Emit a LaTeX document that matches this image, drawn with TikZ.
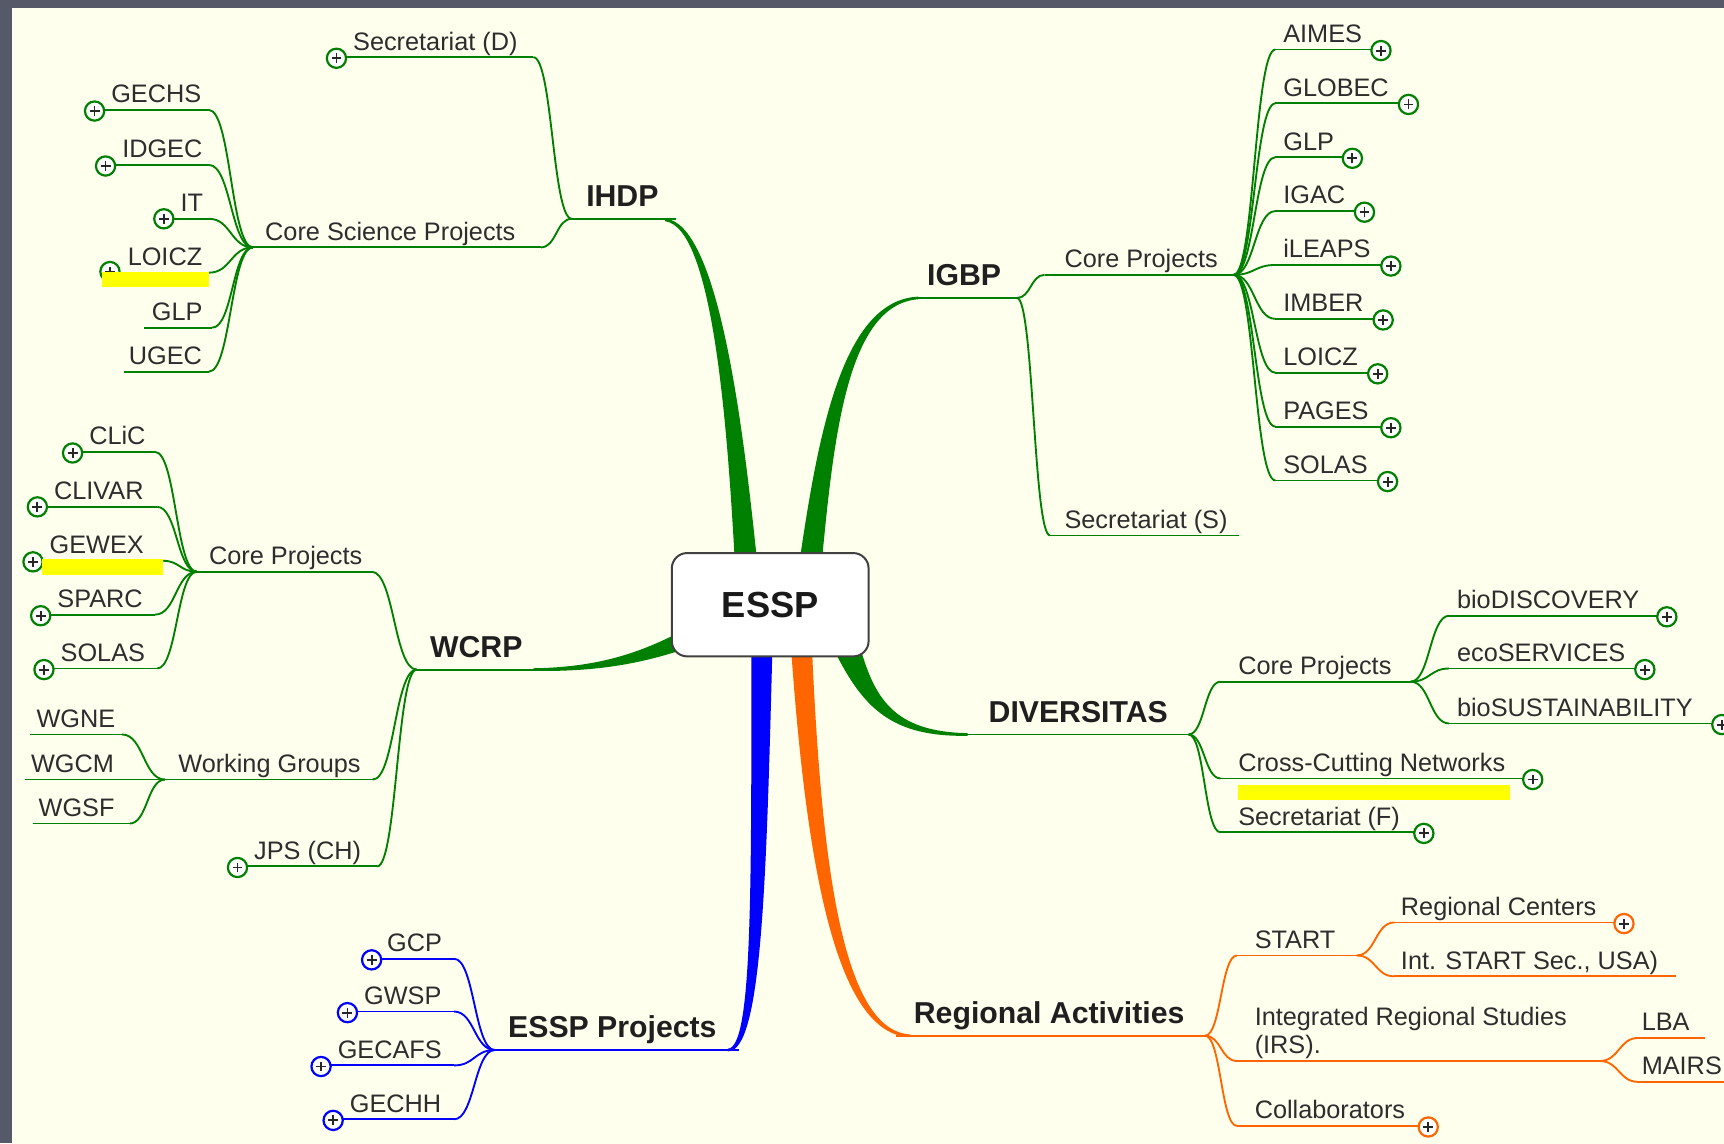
\documentclass[tikz,border=0pt]{standalone}
\usepackage{fontspec}
\setmainfont{Liberation Sans}
\usetikzlibrary{calc}
\definecolor{frame}{RGB}{86,89,104}
\definecolor{cream}{RGB}{255,255,238}
\definecolor{gr}{RGB}{0,128,0}
\definecolor{bl}{RGB}{0,0,255}
\definecolor{og}{RGB}{255,102,0}
\definecolor{txt}{RGB}{45,45,45}
\definecolor{yel}{RGB}{255,255,0}
\tikzset{
 lbl/.style={font=\fontsize{23}{25.5}\selectfont, text=txt, inner sep=0pt},
 blbl/.style={font=\fontsize{27.5}{30}\selectfont\bfseries, text=black!88, inner sep=0pt},
 thinln/.style={line width=1.7pt},
 plusnode/.style={circle, minimum size=17.5pt, inner sep=0pt, fill=white, line width=2pt,
   path picture={\draw[line width=1.7pt,black!85]
     ([xshift=-4.5pt]path picture bounding box.center) -- ([xshift=4.5pt]path picture bounding box.center)
     ([yshift=-4.5pt]path picture bounding box.center) -- ([yshift=4.5pt]path picture bounding box.center);}},
 esspbox/.style={draw=black!75, line width=1.8pt, fill=white, rounded corners=14pt,
   minimum width=179pt, minimum height=94pt, inner sep=0pt,
   font=\fontsize{33}{36}\selectfont\bfseries, text=black!90},
}
\newcommand\leaf[7]{%
 \coordinate (#1-l) at (#4,#6);
 \coordinate (#1-r) at (#5,#6);
 \draw[thinln,#2] (#1-l) -- (#1-r);
 \node[lbl,anchor=base west] (#1) at (#3,#6-6.5) {#7};}
\newcommand\bleaf[7]{%
 \coordinate (#1-l) at (#4,#6);
 \coordinate (#1-r) at (#5,#6);
 \draw[thinln,#2] (#1-l) -- (#1-r);
 \node[blbl,anchor=base west] (#1) at (#3,#6-11) {#7};}
\newcommand\sconn[3]{\draw[thinln,#1] let \p1=(#2), \p2=(#3) in
 (\p1) .. controls ({0.5*\x1+0.5*\x2},\y1) and ({0.5*\x1+0.5*\x2},\y2) .. (\p2);}
\newcommand\plusmark[3]{\node[plusnode,draw=#2] (#1) at (#3) {};}
\begin{document}
\begin{tikzpicture}[x=1pt,y=-1pt]
\clip (0,0) rectangle (1568,1040);
\fill[frame] (0,0) rectangle (1568,1040);
\fill[cream] (11,7) rectangle (1570,1042);

% ---- trunks ----
\fill[gr] (688,505) .. controls (675,380) and (652.5,203) .. (605,198.8)
  -- (605,201.2) .. controls (647.5,207) and (661,380) .. (668,505) -- cycle;
\fill[gr] (728,505) .. controls (745,390) and (767.5,273) .. (835,269.8)
  -- (835,272.2) .. controls (772.5,277) and (759,390) .. (748,505) -- cycle;
\fill[gr] (619,574.5) .. controls (579,595.5) and (540,607) .. (485,607.8)
  -- (485,610.2) .. controls (540,611) and (581,604.5) .. (625,589.5) -- cycle;
\fill[gr] (781,584) .. controls (795,636) and (813,665.5) .. (880,666.8)
  -- (880,669.2) .. controls (811,670.5) and (785,644) .. (759,592) -- cycle;
\fill[bl] (702.5,590) .. controls (697,800) and (693,957) .. (662,956.2)
  -- (662,953.8) .. controls (685,953) and (683,800) .. (683.5,590) -- cycle;
\fill[og] (719.5,590) .. controls (733,780.5) and (759,942) .. (828,943.2)
  -- (828,940.8) .. controls (765,938) and (747,779.5) .. (738.5,590) -- cycle;

\node[esspbox] (essp) at (700.5,550) {ESSP};

% ---- IHDP ----
\bleaf{ihdp}{gr}{533}{520}{615}{199}{IHDP}
\leaf{secD}{gr}{321}{306}{485}{52}{Secretariat (D)}
\leaf{csp}{gr}{241}{230}{492}{225}{Core Science Projects}
\leaf{gechs}{gr}{101}{86}{190}{100}{GECHS}
\leaf{idgec}{gr}{111}{96}{190}{150}{IDGEC}
\leaf{it}{gr}{164}{149}{190}{199}{IT}
\leaf{loiczA}{gr}{116}{100}{190}{248}{LOICZ}
\leaf{glpA}{gr}{138}{131}{193}{298}{GLP}
\leaf{ugec}{gr}{117}{113}{190}{338}{UGEC}
\sconn{gr}{secD-r}{ihdp-l}
\sconn{gr}{csp-r}{ihdp-l}
\foreach \c in {gechs,idgec,it,loiczA,glpA,ugec}{\sconn{gr}{\c-r}{csp-l}}
\plusmark{pSecD}{gr}{306,53}
\plusmark{pGechs}{gr}{86,101}
\plusmark{pIdgec}{gr}{96,151}
\plusmark{pIt}{gr}{149,199}
\plusmark{pLoiczA}{gr}{100,247}

% ---- IGBP ----
\bleaf{igbp}{gr}{843}{830}{925}{271}{IGBP}
\leaf{cpI}{gr}{968}{950}{1122}{250}{Core Projects}
\leaf{secS}{gr}{968}{955}{1127}{487}{Secretariat (S)}
\sconn{gr}{igbp-r}{cpI-l}
\sconn{gr}{igbp-r}{secS-l}
\leaf{aimes}{gr}{1167}{1160}{1256}{45}{AIMES}
\leaf{globec}{gr}{1167}{1160}{1281}{94}{GLOBEC}
\leaf{glpB}{gr}{1167}{1160}{1230}{143}{GLP}
\leaf{igac}{gr}{1167}{1160}{1241}{192}{IGAC}
\leaf{ileaps}{gr}{1167}{1160}{1265}{241}{iLEAPS}
\leaf{imber}{gr}{1167}{1160}{1258}{290}{IMBER}
\leaf{loiczB}{gr}{1167}{1160}{1253}{339}{LOICZ}
\leaf{pages}{gr}{1167}{1160}{1265}{388}{PAGES}
\leaf{solasB}{gr}{1167}{1160}{1262}{437}{SOLAS}
\foreach \c in {aimes,globec,glpB,igac,ileaps,imber,loiczB,pages,solasB}{\sconn{gr}{cpI-r}{\c-l}}
\plusmark{pAimes}{gr}{1256,46}
\plusmark{pGlobec}{gr}{1281,95}
\plusmark{pGlpB}{gr}{1230,144}
\plusmark{pIgac}{gr}{1241,193}
\plusmark{pIleaps}{gr}{1265,242}
\plusmark{pImber}{gr}{1258,291}
\plusmark{pLoiczB}{gr}{1253,340}
\plusmark{pPages}{gr}{1265,389}
\plusmark{pSolasB}{gr}{1262,438}

% ---- WCRP ----
\bleaf{wcrp}{gr}{391}{379}{490}{609}{WCRP}
\leaf{cpW}{gr}{190}{179}{338}{520}{Core Projects}
\leaf{wg}{gr}{162}{150}{339}{709}{Working Groups}
\leaf{jps}{gr}{231}{216}{343}{788}{JPS (CH)}
\foreach \c in {cpW,wg,jps}{\sconn{gr}{\c-r}{wcrp-l}}
\leaf{clic}{gr}{81}{66}{141}{411}{CLiC}
\leaf{clivar}{gr}{49}{34}{143}{461}{CLIVAR}
\leaf{gewex}{gr}{45}{30}{148}{510}{GEWEX}
\leaf{sparc}{gr}{52}{37}{141}{559}{SPARC}
\leaf{solasA}{gr}{55}{40}{143}{608}{SOLAS}
\foreach \c in {clic,clivar,gewex,sparc,solasA}{\sconn{gr}{\c-r}{cpW-l}}
\leaf{wgne}{gr}{33}{27}{111}{668}{WGNE}
\leaf{wgcm}{gr}{28}{23}{140}{709}{WGCM}
\leaf{wgsf}{gr}{35}{30}{118}{749}{WGSF}
\foreach \c in {wgne,wgcm,wgsf}{\sconn{gr}{\c-r}{wg-l}}
\plusmark{pJps}{gr}{216,789}
\plusmark{pClic}{gr}{66,412}
\plusmark{pClivar}{gr}{34,461}
\plusmark{pGewex}{gr}{30,511}
\plusmark{pSparc}{gr}{37,560}
\plusmark{pSolasA}{gr}{40,609}

% ---- ESSP Projects ----
\bleaf{esspp}{bl}{462}{450}{672}{955}{ESSP Projects}
\leaf{gcp}{bl}{352}{338}{413}{872}{GCP}
\leaf{gwsp}{bl}{331}{316}{413}{920}{GWSP}
\leaf{gecafs}{bl}{307}{292}{413}{969}{GECAFS}
\leaf{gechh}{bl}{318}{303}{413}{1018}{GECHH}
\foreach \c in {gcp,gwsp,gecafs,gechh}{\sconn{bl}{\c-r}{esspp-l}}
\plusmark{pGcp}{bl}{338,873}
\plusmark{pGwsp}{bl}{316,921}
\plusmark{pGecafs}{bl}{292,970}
\plusmark{pGechh}{bl}{303,1019}

% ---- DIVERSITAS ----
\bleaf{div}{gr}{899}{876}{1081}{668}{DIVERSITAS}
\leaf{cpD}{gr}{1126}{1110}{1283}{620}{Core Projects}
\leaf{ccn}{gr}{1126}{1110}{1394}{708}{Cross-Cutting Networks}
\leaf{secF}{gr}{1126}{1110}{1295}{757}{Secretariat (F)}
\foreach \c in {cpD,ccn,secF}{\sconn{gr}{div-r}{\c-l}}
\leaf{biod}{gr}{1325}{1318}{1516}{560}{bioDISCOVERY}
\leaf{ecos}{gr}{1325}{1318}{1496}{608}{ecoSERVICES}
\leaf{bios}{gr}{1325}{1318}{1566}{658}{bioSUSTAINABILITY}
\foreach \c in {biod,ecos,bios}{\sconn{gr}{cpD-r}{\c-l}}
\plusmark{pCcn}{gr}{1394,709}
\plusmark{pSecF}{gr}{1295,758}
\plusmark{pBiod}{gr}{1516,561}
\plusmark{pEcos}{gr}{1496,609}
\plusmark{pBios}{gr}{1566,659}

% ---- Regional Activities ----
\bleaf{ra}{og}{831}{815}{1096}{942}{Regional Activities}
\leaf{start}{og}{1141}{1125}{1234}{869}{START}
\coordinate (irs-l) at (1125,965);
\coordinate (irs-r) at (1455,965);
\draw[thinln,og] (irs-l) -- (irs-r);
\node[lbl,anchor=north west,align=left] (irs) at (1141,915.5) {Integrated Regional Studies\\(IRS).};
\leaf{collab}{og}{1141}{1125}{1299}{1024}{Collaborators}
\foreach \c in {start,irs,collab}{\sconn{og}{ra-r}{\c-l}}
\leaf{regc}{og}{1274}{1268}{1477}{839}{Regional Centers}
\leaf{intst}{og}{1274}{1268}{1524}{888}{Int. START Sec., USA)}
\foreach \c in {regc,intst}{\sconn{og}{start-r}{\c-l}}
\leaf{lba}{og}{1493}{1490}{1551}{944}{LBA}
\leaf{mairs}{og}{1493}{1490}{1590}{984}{MAIRS}
\foreach \c in {lba,mairs}{\sconn{og}{irs-r}{\c-l}}
\plusmark{pCollab}{og}{1299,1025}
\plusmark{pRegc}{og}{1477,840}

% ---- highlights ----
\fill[yel] (93,247) rectangle (190,261);
\fill[yel] (38,508.5) rectangle (148,523);
\fill[yel] (1126,714) rectangle (1373,728);
\end{tikzpicture}
\end{document}
